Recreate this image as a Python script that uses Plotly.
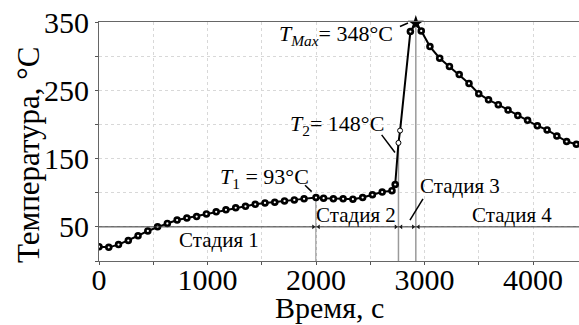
import plotly.graph_objects as go

# Measured temperature profile (time in s, temperature in °C)
time_s = [0, 90, 180, 270, 360, 450, 540, 630, 720, 810, 900, 990, 1080, 1170,
          1260, 1350, 1440, 1530, 1620, 1710, 1800, 1890, 2000,
          2070, 2160, 2250, 2340, 2430, 2520, 2610, 2700, 2730,
          2870, 2920, 2970, 3050, 3140, 3230, 3320, 3410, 3500, 3590, 3680,
          3770, 3860, 3950, 4040, 4130, 4220, 4310, 4400]
temp_c = [21, 20, 24, 30, 37, 44, 50, 55, 60, 63, 65, 69, 72, 75,
          78, 80, 83, 85, 86, 88, 89.5, 91, 93,
          92, 91, 91, 90.5, 93, 97, 101, 103, 112,
          336, 348, 337, 314, 297, 285, 273, 260, 245, 236, 229,
          221, 213, 206, 198, 192, 183, 175, 171]

# Fast heating section (thin line, open circles)
rise_time = [2730, 2745, 2760, 2775, 2870]
rise_temp = [112, 148, 173, 191, 336]
open_time = [2760, 2775]
open_temp = [173, 191]

# Characteristic points
t1_time, t1_temp = 2000, 93
t2_time, t2_temp = 2745, 148
tmax_time, tmax_temp = 2920, 348

# Stage boundaries and labels
stage_bounds = [2000, 2760, 2920]
stage_bound_temp = [93, 173, 350]
stage_level = 50
stage_names = ["Стадия 1", "Стадия 2", "Стадия 3", "Стадия 4"]
stage_label_x = [1110, 2369, 3330, 3810]
stage_label_y = [31, 67, 110, 67]

FONT = "Liberation Serif, Times New Roman, serif"

fig = go.Figure()

main_t = [t for t in time_s if t <= 2730]
main_v = [v for t, v in zip(time_s, temp_c) if t <= 2730]
tail_t = [t for t in time_s if t >= 2870]
tail_v = [v for t, v in zip(time_s, temp_c) if t >= 2870]
dot_t = [t for t in time_s if t != tmax_time]
dot_v = [v for t, v in zip(time_s, temp_c) if t != tmax_time]

# curve segments
fig.add_trace(go.Scatter(x=main_t, y=main_v, mode="lines",
                         line=dict(color="black", width=2)))
fig.add_trace(go.Scatter(x=rise_time, y=rise_temp, mode="lines",
                         line=dict(color="black", width=2)))
fig.add_trace(go.Scatter(x=tail_t, y=tail_v, mode="lines",
                         line=dict(color="black", width=2), cliponaxis=False))
# black dots with a tiny white centre
fig.add_trace(go.Scatter(x=dot_t, y=dot_v, mode="markers",
                         marker=dict(symbol="circle", size=7.5, color="black", line=dict(width=0))))
fig.add_trace(go.Scatter(x=dot_t, y=dot_v, mode="markers",
                         marker=dict(symbol="circle", size=2.2, color="white", line=dict(width=0))))
fig.add_trace(go.Scatter(x=open_time, y=open_temp, mode="markers",
                         marker=dict(symbol="circle", size=5, color="white",
                                     line=dict(color="black", width=1))))
fig.add_trace(go.Scatter(x=[tmax_time], y=[tmax_temp], mode="markers", cliponaxis=False,
                         marker=dict(symbol="star", size=12, color="black")))

# stage boundary verticals
for b, top in zip(stage_bounds, stage_bound_temp):
    fig.add_shape(type="line", x0=b, x1=b, y0=0, y1=top, xref="x", yref="y",
                  line=dict(color="#9a9a9a", width=1.5), layer="below")

# stage baseline
fig.add_shape(type="line", x0=0, x1=1, xref="paper", y0=stage_level, y1=stage_level,
              yref="y", line=dict(color="#333333", width=1))

# dimension arrowheads on the baseline
arr_l = [b - 25 for b in stage_bounds]
arr_r = [b + 25 for b in stage_bounds]
fig.add_trace(go.Scatter(x=arr_l, y=[stage_level] * 3, mode="markers",
                         marker=dict(symbol="triangle-right", size=4, color="black")))
fig.add_trace(go.Scatter(x=arr_r, y=[stage_level] * 3, mode="markers",
                         marker=dict(symbol="triangle-left", size=4, color="black")))

# stage labels
for name, x, y in zip(stage_names, stage_label_x, stage_label_y):
    fig.add_annotation(x=x, y=y, text=name, showarrow=False,
                       font=dict(family=FONT, size=21, color="black"))
fig.add_shape(type="line", x0=2866, y0=60, x1=2986, y1=91,
              line=dict(color="black", width=1.5))

# point annotations
fig.add_annotation(x=1521, y=122, text="<i>T</i><sub>1</sub> = 93°C", showarrow=False,
                   font=dict(family=FONT, size=22, color="black"))
fig.add_shape(type="line", x0=1899, y0=111, x1=1960, y1=101.6,
              line=dict(color="black", width=1.5))
fig.add_annotation(x=2194, y=199, text="<i>T</i><sub>2</sub>= 148°C", showarrow=False,
                   font=dict(family=FONT, size=22, color="black"))
fig.add_shape(type="line", x0=2605, y0=184.7, x1=2728, y1=158.8,
              line=dict(color="black", width=1.5))
fig.add_annotation(x=2184, y=331, text="<i>T</i><sub><i>Max</i></sub>= 348°C", showarrow=False,
                   font=dict(family=FONT, size=22, color="black"))
fig.add_shape(type="line", x0=2774, y0=343.5, x1=2848, y1=348.5,
              line=dict(color="black", width=1.5))

# axis titles
fig.add_annotation(xref="paper", yref="paper", x=(329 - 99) / 480, y=-(325 - 261) / 239,
                   text="Время, с", showarrow=False, yanchor="bottom", xanchor="center",
                   borderpad=0, font=dict(family=FONT, size=30, color="black"))
fig.add_annotation(xref="paper", yref="paper", x=-(99 - 28) / 480, y=(261 - 155) / 239,
                   text="Температура, °C", showarrow=False, textangle=-90,
                   yanchor="middle", xanchor="center",
                   font=dict(family=FONT, size=31, color="black"))

grid = dict(showgrid=True, gridcolor="#d8d8d8", griddash="dot", gridwidth=1)

fig.update_xaxes(range=[0, 4424], tick0=0, dtick=1000, ticks="outside", ticklen=3,
                 tickcolor="#555", showline=True, linecolor="#666", linewidth=1.2,
                 mirror=True, zeroline=False, ticklabelstandoff=-11,
                 tickfont=dict(family=FONT, size=30, color="black"),
                 minor=dict(dtick=500, ticks="outside", ticklen=3, tickcolor="#555", **grid),
                 **grid)
fig.update_yaxes(range=[0, 350], tick0=50, dtick=100, ticks="outside", ticklen=3,
                 tickcolor="#555", showline=True, linecolor="#666", linewidth=1.2,
                 zeroline=False,
                 tickfont=dict(family=FONT, size=30, color="black"),
                 minor=dict(dtick=50, tick0=0, ticks="outside", ticklen=3, tickcolor="#555", **grid),
                 **grid)

fig.update_layout(width=579, height=325, margin=dict(l=99, r=0, t=22, b=64),
                  paper_bgcolor="white", plot_bgcolor="white", showlegend=False)

fig.write_html("out.html")
